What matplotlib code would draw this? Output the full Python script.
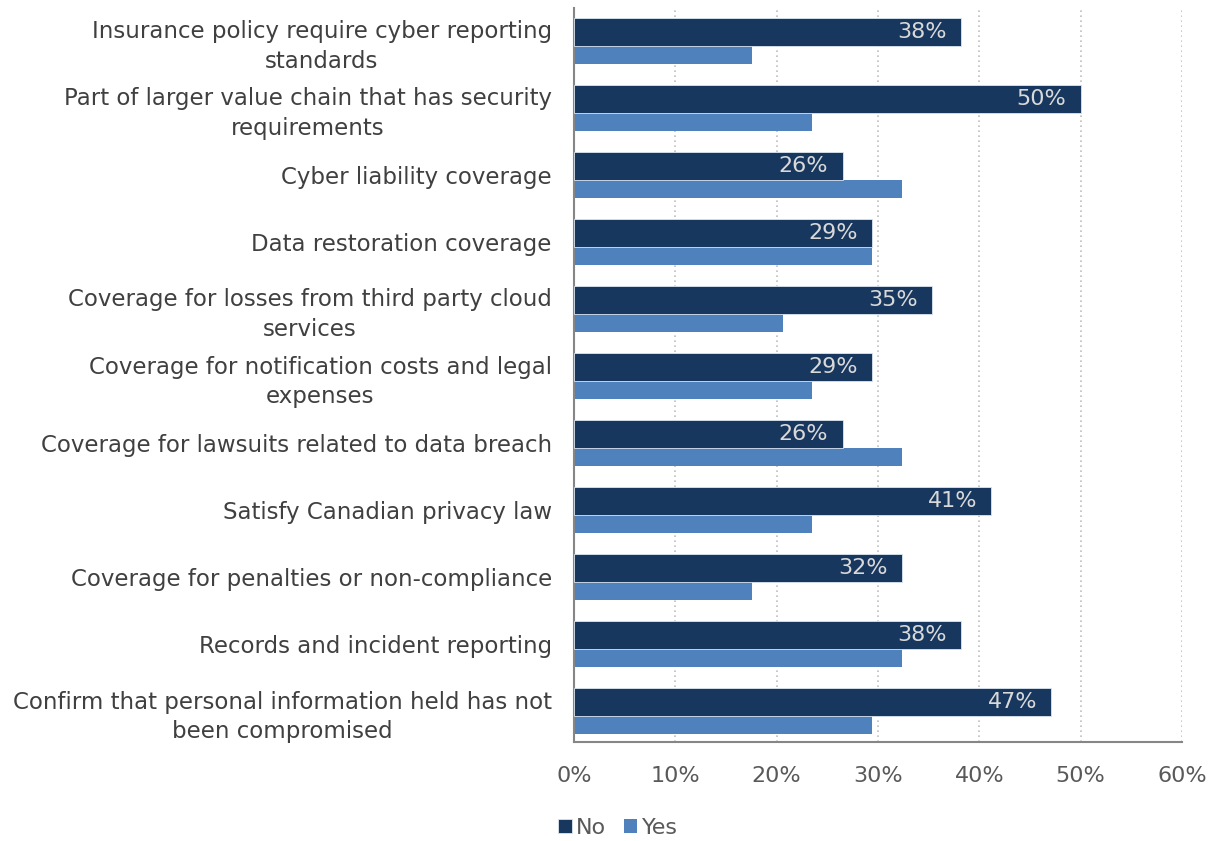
import matplotlib.pyplot as plt
import numpy as np

# data
categories = ['Insurance policy require cyber reporting\nstandards',
              'Part of larger value chain that has security\nrequirements',
              'Cyber liability coverage',
              'Data restoration coverage',
              'Coverage for losses from third party cloud\nservices',
              'Coverage for notification costs and legal\nexpenses',
              'Coverage for lawsuits related to data breach',
              'Satisfy Canadian privacy law',
              'Coverage for penalties or non-compliance',
              'Records and incident reporting',
              'Confirm that personal information held has not\nbeen compromised']
no_vals = [38.2, 50.0, 26.5, 29.4, 35.3, 29.4, 26.5, 41.2, 32.4, 38.2, 47.1]
yes_vals = [17.6, 23.5, 32.4, 29.4, 20.6, 23.5, 32.4, 23.5, 17.6, 32.4, 29.4]
no_labels = ['38%', '50%', '26%', '29%', '35%', '29%', '26%', '41%', '32%', '38%', '47%']
xticks = [0, 10, 20, 30, 40, 50, 60]

plt.rcParams['font.family'] = ['DejaVu Sans']
dark = '#17375E'
light = '#4F81BD'
txt = '#404040'

fig = plt.figure(figsize=(12.12, 8.41), dpi=100)
ax = fig.add_axes([574 / 1212, 1 - 742 / 841, (1182 - 574) / 1212, (742 - 8) / 841])

y = np.arange(len(categories))
h_no = 0.418
h_yes = 0.269
ax.barh(y - 0.343 + h_no / 2, no_vals, h_no, color=dark, edgecolor='#DCE6F2', linewidth=0.6, label='No', zorder=3)
ax.barh(y + 0.343 - h_yes / 2, yes_vals, h_yes, color=light, edgecolor='none', label='Yes', zorder=2)

for i in range(len(categories)):
    ax.text(no_vals[i] - 1.4, y[i] - 0.343 + h_no / 2, no_labels[i], ha='right', va='center',
            color='#D9D9D9', fontsize=16, zorder=4)

ax.set_xlim(0, 60)
ax.set_ylim(10.46, -0.49)
ax.set_xticks(xticks)
ax.set_xticklabels([str(t) + '%' for t in xticks], fontsize=16, color='#595959')
ax.set_yticks(y)
ax.set_yticklabels(categories, fontsize=16.5, color=txt)
for lab in ax.get_yticklabels():
    lab.set_multialignment('center')
    lab.set_linespacing(1.35)
ax.tick_params(axis='y', length=0, pad=16)
ax.tick_params(axis='x', length=0, pad=17)
ax.xaxis.grid(True, linestyle=(0, (1, 2)), color='#BFBFBF', linewidth=1.2, zorder=0)
ax.set_axisbelow(True)
for s in ['top', 'right']:
    ax.spines[s].set_visible(False)
ax.spines['left'].set_color('#868686')
ax.spines['left'].set_linewidth(1.5)
ax.spines['bottom'].set_color('#868686')
ax.spines['bottom'].set_linewidth(1.5)

fig.legend(loc='center', bbox_to_anchor=(0.51, 0.0155), ncol=2, frameon=False, fontsize=16,
           handlelength=0.6, handleheight=0.6, handletextpad=0.2, columnspacing=0.8, labelcolor='#595959')

plt.savefig('out.png', dpi=100)
